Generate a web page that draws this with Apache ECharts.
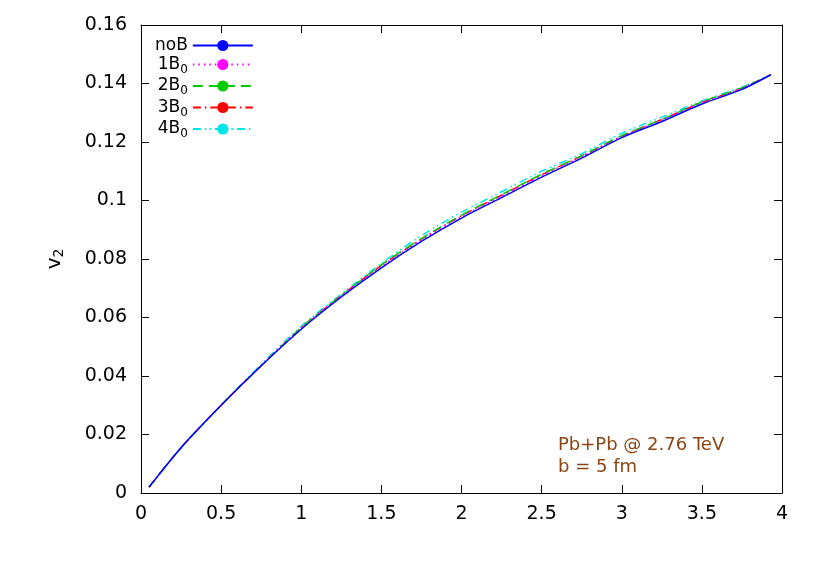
<!DOCTYPE html><html><head><meta charset="utf-8"><script src="https://cdn.jsdelivr.net/npm/echarts@6/dist/echarts.min.js"></script></head><body style="margin:0"><div id="c" style="width:830px;height:581px"></div><script>
const xs=[0.05,0.25,0.5,0.75,1.0,1.25,1.5,1.75,2.0,2.25,2.5,2.75,3.0,3.25,3.5,3.75,3.93];
const noB=[0.002,0.0155,0.030,0.0435,0.056,0.067,0.077,0.086,0.094,0.101,0.108,0.1145,0.1215,0.127,0.133,0.138,0.143];
const b1=[0.002,0.0155,0.030,0.0435,0.0565,0.0675,0.0775,0.0865,0.0945,0.1015,0.1085,0.115,0.1218,0.1275,0.1335,0.1383,0.143];
const b2=[0.002,0.0155,0.030,0.0435,0.0565,0.0675,0.078,0.087,0.095,0.102,0.109,0.1153,0.1222,0.1277,0.1337,0.1385,0.143];
const b3=[0.002,0.0155,0.030,0.0435,0.0565,0.0675,0.0778,0.0868,0.0948,0.1018,0.1088,0.1152,0.122,0.1277,0.1335,0.1384,0.143];
const b4=[0.002,0.0155,0.030,0.044,0.057,0.068,0.0785,0.088,0.096,0.103,0.11,0.116,0.123,0.1285,0.134,0.1388,0.143];
const names=['noB','1B0','2B0','3B0','4B0'];
const colors=['#0000ff','#ff00ff','#00cc00','#ff0000','#00e5e5'];
const dashes=['solid',[1.5,4],[10,6],[8,4,1.5,4],[8,4,1.5,3,1.5,4]];
const data=[noB,b1,b2,b3,b4];
const ch=echarts.init(document.getElementById('c'));
const ax={axisLine:{show:true,onZero:false,lineStyle:{color:'#000'}},axisTick:{inside:true,length:8,lineStyle:{color:'#000'}},splitLine:{show:false}};
const F='DejaVu Sans';
ch.setOption({animation:false,
grid:{left:141,right:48,top:25,bottom:88},
legend:{show:true,left:150,top:32,orient:'vertical',align:'right',itemWidth:60,itemHeight:14,itemGap:2,
 data:names,
 textStyle:{fontSize:17,fontFamily:F,color:'#000',rich:{s:{fontSize:12,fontFamily:F,padding:[10,0,0,0]}}},
 formatter:function(n){return n==='noB'?n:n.slice(0,2)+'{s|'+n.slice(2)+'}';}},
xAxis:[Object.assign({type:'value',min:0,max:4,interval:0.5,axisLabel:{fontSize:19,color:'#000',margin:12,fontFamily:F}},ax),
 Object.assign({type:'value',position:'top',min:0,max:4,interval:0.5,axisLabel:{show:false}},ax)],
yAxis:[Object.assign({type:'value',min:0,max:0.16,interval:0.02,axisLabel:{fontSize:19,color:'#000',margin:14,fontFamily:F,formatter:v=>+v.toFixed(2)+''},
 name:'{a|v}{s|2}',nameLocation:'middle',nameGap:75,nameRotate:90,nameTextStyle:{rich:{a:{fontSize:20,fontFamily:F},s:{fontSize:14,fontFamily:F,padding:[8,0,0,0]}}}},ax),
 Object.assign({type:'value',position:'right',min:0,max:0.16,interval:0.02,axisLabel:{show:false}},ax)],
graphic:[{type:'text',left:558,top:434,z:100,style:{text:'Pb+Pb @ 2.76 TeV\nb = 5 fm',fill:'#8b4513',fontSize:18,fontFamily:F,lineHeight:22}}],
series:data.map((d,i)=>({name:names[i],type:'line',smooth:0.3,showSymbol:false,symbol:'none',z:10-i,
 data:xs.map((x,j)=>[x,d[j]]),itemStyle:{color:colors[i]},lineStyle:{color:colors[i],width:1.5,type:dashes[i]}}))
});
</script></body></html>
